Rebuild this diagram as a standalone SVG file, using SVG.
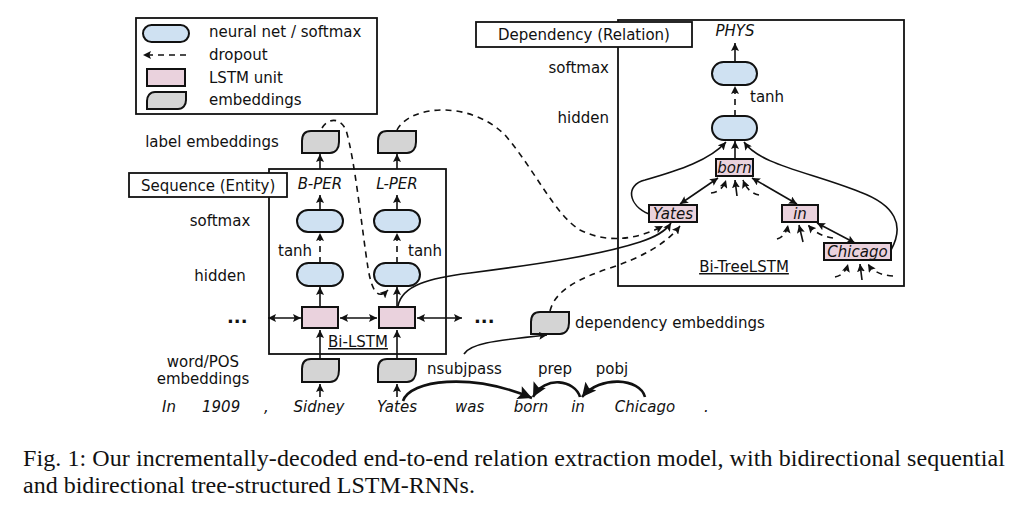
<svg xmlns="http://www.w3.org/2000/svg" width="1019" height="513" viewBox="0 0 1019 513">
<defs>
<style>
.t{font-family:"DejaVu Sans",Verdana,sans-serif;font-size:15px;fill:#111}
.i{font-style:italic}
.m{text-anchor:middle}
.e{text-anchor:end}
.u{text-decoration:underline}
.box{fill:#fff;stroke:#111;stroke-width:1.8}
.nn{fill:#cfe1f2;stroke:#111;stroke-width:2}
.ls{fill:#ead2dd;stroke:#111;stroke-width:2}
.em{fill:#d4d4d4;stroke:#111;stroke-width:2}
.ln{fill:none;stroke:#111;stroke-width:1.6}
.dl{fill:none;stroke:#111;stroke-width:1.6;stroke-dasharray:6 5}
.arc{fill:none;stroke:#111;stroke-width:2.6}
.cap{font-family:"Liberation Serif","Times New Roman",serif;font-size:24px;fill:#111}
</style>
<marker id="a" viewBox="0 0 10 10" refX="10" refY="5" markerWidth="8" markerHeight="8" markerUnits="userSpaceOnUse" orient="auto-start-reverse">
<path d="M0,0 L10,5 L0,10 L2,5 z" fill="#111"/>
</marker>
<marker id="b" viewBox="0 0 10 10" refX="10" refY="5" markerWidth="16" markerHeight="14" markerUnits="userSpaceOnUse" orient="auto">
<path d="M0,0 L10,5 L0,10 L2,5 z" fill="#111"/>
</marker>
</defs>
<rect width="1019" height="513" fill="#fff"/>

<g id="legend">
<rect class="box" x="136" y="18" width="241" height="96" stroke-width="2"/>
<rect class="nn" x="143" y="25" width="46" height="17" rx="8.5"/>
<line class="dl" x1="186" y1="55" x2="143" y2="55" marker-end="url(#a)"/>
<rect class="ls" x="147" y="69" width="38" height="17"/>
<path class="em" d="M147,109 L147,101 C147,96 150,92 155,92 L186,92 L186,100 C186,105 183,109 178,109 Z"/>
<text class="t" x="209" y="37">neural net / softmax</text>
<text class="t" x="209" y="60">dropout</text>
<text class="t" x="209" y="83">LSTM unit</text>
<text class="t" x="209" y="105">embeddings</text>
</g>

<g id="sequence">
<rect class="box" x="269" y="169" width="177" height="185"/>
<rect class="box" x="129" y="173" width="158" height="24"/>
<text class="t" x="141" y="191">Sequence (Entity)</text>
<text class="t m" x="212" y="147">label embeddings</text>
<text class="t m" x="220" y="226">softmax</text>
<text class="t m" x="220" y="281">hidden</text>
<text class="t m" x="203" y="367">word/POS</text>
<text class="t m" x="203" y="384">embeddings</text>
<text class="t" x="278" y="256">tanh</text>
<text class="t" x="408" y="256">tanh</text>
<text class="t i m" x="320" y="189">B-PER</text>
<text class="t i m" x="397" y="189">L-PER</text>
<text class="t m u" x="358" y="347">Bi-LSTM</text>
<text class="t" x="227" y="323" style="font-size:18px;font-weight:bold">...</text>
<text class="t" x="474" y="323" style="font-size:18px;font-weight:bold">...</text>
</g>

<g id="label-emb-B">
<path class="em" d="M302,153 L302,141 C302,135 305,131 311,131 L339,131 L339,142 C339,148 336,153 330,153 Z"/>
</g>
<g id="label-emb-L">
<path class="em" d="M378,153 L378,141 C378,135 381,131 387,131 L416,131 L416,142 C416,148 413,153 407,153 Z"/>
</g>
<g id="softmax-B"><rect class="nn" x="297" y="210" width="46" height="22" rx="11"/></g>
<g id="softmax-L"><rect class="nn" x="374" y="210" width="46" height="22" rx="11"/></g>
<g id="hidden-B"><rect class="nn" x="297" y="263" width="46" height="23" rx="11.5"/></g>
<g id="hidden-L"><rect class="nn" x="374" y="263" width="46" height="23" rx="11.5"/></g>
<g id="lstm-sidney"><rect class="ls" x="302" y="307" width="36" height="21"/></g>
<g id="lstm-yates"><rect class="ls" x="379" y="307" width="36" height="21"/></g>
<g id="word-emb-sidney">
<path class="em" d="M302,382 L302,369 C302,363 305,359 311,359 L339,359 L339,370 C339,377 336,382 330,382 Z"/>
</g>
<g id="word-emb-yates">
<path class="em" d="M378,382 L378,369 C378,363 381,359 387,359 L416,359 L416,370 C416,377 413,382 407,382 Z"/>
</g>
<g id="dep-emb">
<path class="em" d="M531,334 L531,322 C531,316 534,312 540,312 L569,312 L569,323 C569,329 566,334 560,334 Z"/>
<text class="t" x="575" y="328">dependency embeddings</text>
</g>

<g id="sentence">
<text class="t i" x="162" y="412">In</text>
<text class="t i" x="202" y="412">1909</text>
<text class="t i" x="264" y="412">,</text>
<text class="t i m" x="319" y="412">Sidney</text>
<text class="t i m" x="397" y="412">Yates</text>
<text class="t i" x="455" y="412">was</text>
<text class="t i m" x="531" y="412">born</text>
<text class="t i m" x="578" y="412">in</text>
<text class="t i m" x="645" y="412">Chicago</text>
<text class="t i" x="704" y="412">.</text>
<text class="t" x="427" y="374">nsubjpass</text>
<text class="t m" x="555" y="374">prep</text>
<text class="t m" x="612" y="374">pobj</text>
</g>

<g id="dependency">
<rect class="box" x="618" y="20" width="286" height="266"/>
<rect class="box" x="476" y="22" width="216" height="25"/>
<text class="t" x="498" y="40">Dependency (Relation)</text>
<text class="t e" x="609" y="73">softmax</text>
<text class="t e" x="609" y="123">hidden</text>
<text class="t i m" x="735" y="36">PHYS</text>
<text class="t" x="750" y="102">tanh</text>
<text class="t m u" x="744" y="272">Bi-TreeLSTM</text>
</g>
<g id="softmax-rel"><rect class="nn" x="712" y="62" width="45" height="23" rx="11.5"/></g>
<g id="hidden-rel"><rect class="nn" x="712" y="116" width="45" height="24" rx="12"/></g>
<g id="tree-born">
<rect class="ls" x="716" y="159" width="37" height="17"/>
<text class="t i m" x="734.5" y="173">born</text>
</g>
<g id="tree-yates">
<rect class="ls" x="649" y="205" width="48" height="17"/>
<text class="t i m" x="673" y="219">Yates</text>
</g>
<g id="tree-in">
<rect class="ls" x="782" y="205" width="36" height="17"/>
<text class="t i m" x="800" y="219">in</text>
</g>
<g id="tree-chicago">
<rect class="ls" x="824" y="243" width="67" height="17"/>
<text class="t i m" x="857.5" y="257">Chicago</text>
</g>

<g id="connectors">
<line class="ln" x1="320" y1="169" x2="320" y2="154" marker-end="url(#a)"/>
<line class="ln" x1="397" y1="169" x2="397" y2="154" marker-end="url(#a)"/>
<line class="ln" x1="320" y1="210" x2="320" y2="195" marker-end="url(#a)"/>
<line class="ln" x1="397" y1="210" x2="397" y2="195" marker-end="url(#a)"/>
<line class="dl" x1="320" y1="263" x2="320" y2="233" marker-end="url(#a)"/>
<line class="dl" x1="397" y1="263" x2="397" y2="233" marker-end="url(#a)"/>
<line class="ln" x1="320" y1="307" x2="320" y2="287" marker-end="url(#a)"/>
<line class="ln" x1="397" y1="307" x2="397" y2="287" marker-end="url(#a)"/>
<line class="ln" x1="320" y1="359" x2="320" y2="330" marker-end="url(#a)"/>
<line class="ln" x1="397" y1="359" x2="397" y2="330" marker-end="url(#a)"/>
<line class="ln" x1="320" y1="397" x2="320" y2="384" marker-end="url(#a)"/>
<line class="ln" x1="397" y1="397" x2="397" y2="384" marker-end="url(#a)"/>
<line class="ln" x1="268" y1="318" x2="301" y2="318" marker-start="url(#a)" marker-end="url(#a)"/>
<line class="ln" x1="340" y1="318" x2="377" y2="318" marker-start="url(#a)" marker-end="url(#a)"/>
<line class="ln" x1="417" y1="318" x2="462" y2="318" marker-start="url(#a)" marker-end="url(#a)"/>
<path class="dl" d="M322,128 C328,118 340,117 346,130 C355,160 362,230 368,268 C372,292 378,300 388,290" marker-end="url(#a)"/>
<path class="dl" d="M397,130 C410,105 470,100 505,135 C535,170 555,215 580,230 C610,245 640,238 663,226" marker-end="url(#a)"/>
<path class="ln" d="M398,306 C402,285 430,278 470,273 C540,264 600,255 640,242 C655,237 665,232 671,223" marker-end="url(#a)"/>
<path class="dl" d="M550,311 C555,290 580,278 610,268 C640,258 665,245 680,226" marker-end="url(#a)"/>
<path class="ln" d="M464,354 C470,344 490,341 547,335" marker-end="url(#a)"/>
<path class="arc" d="M403,401 C410,380 470,372 532,398" marker-end="url(#b)"/>
<path class="arc" d="M580,397 C575,380 545,375 533,397" marker-end="url(#b)"/>
<path class="arc" d="M645,397 C640,378 600,375 582,397" marker-end="url(#b)"/>
<line class="ln" x1="735" y1="62" x2="735" y2="43" marker-end="url(#a)"/>
<line class="dl" x1="735" y1="116" x2="735" y2="86" marker-end="url(#a)"/>
<line class="ln" x1="735" y1="159" x2="735" y2="141" marker-end="url(#a)"/>
<path class="ln" d="M649,214 C628,205 625,185 645,180 C680,170 710,160 726,142" marker-end="url(#a)"/>
<path class="ln" d="M891,250 C905,225 895,205 860,192 C810,172 760,165 744,142" marker-end="url(#a)"/>
<line class="ln" x1="680" y1="204" x2="718" y2="178" marker-start="url(#a)" marker-end="url(#a)"/>
<line class="ln" x1="752" y1="178" x2="797" y2="204" marker-start="url(#a)" marker-end="url(#a)"/>
<line class="ln" x1="817" y1="223" x2="855" y2="243" marker-start="url(#a)" marker-end="url(#a)"/>
<path class="dl" d="M711,193 Q722,192 726,180" marker-end="url(#a)"/>
<path class="ln" d="M737,196 L735,180" marker-end="url(#a)"/>
<path class="dl" d="M759,195 Q748,193 743,180" marker-end="url(#a)"/>
<path class="dl" d="M777,239 Q786,236 788,225" marker-end="url(#a)"/>
<path class="ln" d="M803,242 L799,225" marker-end="url(#a)"/>
<path class="dl" d="M833,238 Q818,236 808,225" marker-end="url(#a)"/>
<path class="dl" d="M835,277 Q845,275 848,264" marker-end="url(#a)"/>
<path class="ln" d="M862,280 L860,264" marker-end="url(#a)"/>
<path class="dl" d="M893,276 Q875,275 868,264" marker-end="url(#a)"/>
</g>

<g id="caption">
<text class="cap" x="23" y="466" textLength="982">Fig. 1: Our incrementally-decoded end-to-end relation extraction model, with bidirectional sequential</text>
<text class="cap" x="23" y="493">and bidirectional tree-structured LSTM-RNNs.</text>
</g>
</svg>
